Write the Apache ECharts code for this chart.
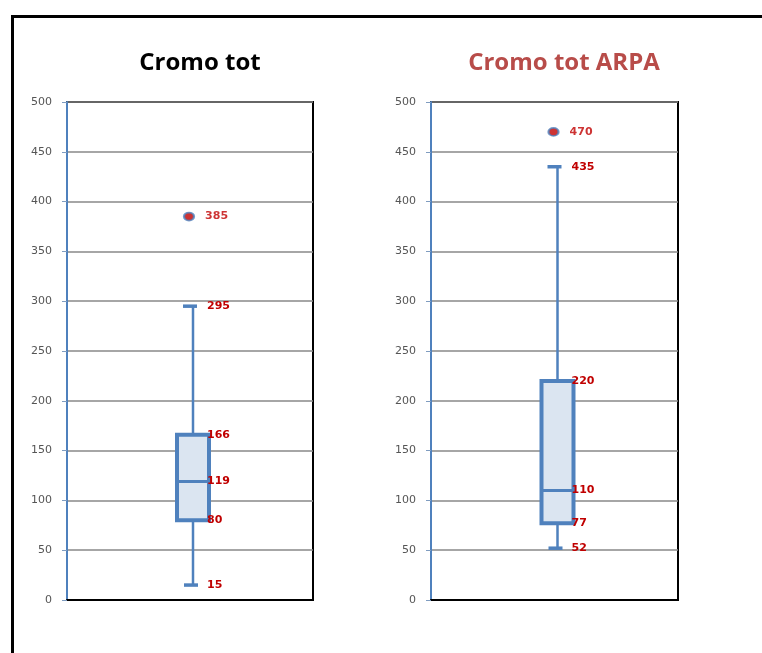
<!DOCTYPE html>
<html>
<head>
<meta charset="utf-8">
<script src="https://cdn.jsdelivr.net/npm/echarts@6/dist/echarts.min.js"></script>
<style>html,body{margin:0;padding:0;background:#fff}#c{width:762px;height:653px}</style>
</head>
<body>
<div id="c"></div>
<script>
// ---- data ----
const titles = ['Cromo tot', 'Cromo tot ARPA'];
const minVals = [15, 52];
const q1Vals = [80, 77];
const medianVals = [119, 110];
const q3Vals = [166, 220];
const maxVals = [295, 435];
const outlierVals = [385, 470];
const yMin = 0, yMax = 500, yStep = 50;

const BLUE = '#4f81bd';
const RED = '#c00000';
const labelFont = 'bold 11px "DejaVu Sans"';

function renderBox(params, api) {
  const cat = api.value(0);
  const vmin = api.value(1), vq1 = api.value(2), vmed = api.value(3), vq3 = api.value(4), vmax = api.value(5);
  const x = api.coord([cat, vmin])[0] + 3;
  const yMinP = api.coord([cat, vmin])[1];
  const yQ1 = api.coord([cat, vq1])[1];
  const yMed = api.coord([cat, vmed])[1];
  const yQ3 = api.coord([cat, vq3])[1];
  const yMaxP = api.coord([cat, vmax])[1];
  const hw = 16;
  const lx = x + 14;
  const lbl = (v, y) => ({type: 'text', z2: 20, style: {text: String(v), x: lx, y: y, fill: RED, font: labelFont, align: 'left', verticalAlign: 'middle'}});
  return {
    type: 'group',
    children: [
      {type: 'line', shape: {x1: x, y1: yMaxP, x2: x, y2: yQ3}, style: {stroke: BLUE, lineWidth: 2.5}},
      {type: 'line', shape: {x1: x, y1: yQ1, x2: x, y2: yMinP}, style: {stroke: BLUE, lineWidth: 2.5}},
      {type: 'line', shape: {x1: x - 10, y1: yMaxP, x2: x + 4, y2: yMaxP}, style: {stroke: BLUE, lineWidth: 3.5}},
      {type: 'line', shape: {x1: x - 9, y1: yMinP, x2: x + 5, y2: yMinP}, style: {stroke: BLUE, lineWidth: 3.5}},
      {type: 'rect', shape: {x: x - hw, y: yQ3, width: hw * 2, height: yQ1 - yQ3}, style: {fill: '#dbe5f1', stroke: BLUE, lineWidth: 4}},
      {type: 'line', shape: {x1: x - hw, y1: yMed, x2: x + hw, y2: yMed}, style: {stroke: BLUE, lineWidth: 3}},
      lbl(vmax, yMaxP), lbl(vq3, yQ3), lbl(vmed, yMed), lbl(vq1, yQ1), lbl(vmin, yMinP)
    ]
  };
}

const grids = [
  {left: 67, top: 102, width: 246, height: 498},
  {left: 431, top: 102, width: 247, height: 498}
];

const option = {
  animation: false,
  backgroundColor: '#fff',
  title: [
    {text: titles[0], left: 195, top: 46, textAlign: 'center',
     textStyle: {fontFamily: 'Open Sans', fontWeight: 'bold', fontSize: 24, color: '#000'}},
    {text: titles[1], left: 559, top: 46, textAlign: 'center',
     textStyle: {fontFamily: 'Open Sans', fontWeight: 'bold', fontSize: 24, color: '#b84c49'}}
  ],
  graphic: [
    {type: 'rect', left: 10, top: 14, shape: {width: 800, height: 700},
     style: {fill: 'none', stroke: '#000', lineWidth: 3}, z: 100}
  ],
  grid: grids.map(g => Object.assign({show: true, borderColor: '#000', borderWidth: 2, backgroundColor: '#fff'}, g)),
  xAxis: [0, 1].map(i => ({
    type: 'category', gridIndex: i, data: [titles[i]],
    axisLine: {show: true, lineStyle: {color: '#000', width: 2}},
    axisTick: {show: false}, axisLabel: {show: false}, splitLine: {show: false}
  })),
  yAxis: [0, 1].map(i => ({
    type: 'value', gridIndex: i, min: yMin, max: yMax, interval: yStep,
    axisLine: {show: true, lineStyle: {color: BLUE, width: 2}},
    axisTick: {show: true, length: 5, lineStyle: {color: '#7f9cc0', width: 1}},
    axisLabel: {color: '#555', fontFamily: 'DejaVu Sans', fontSize: 11, margin: 15},
    splitLine: {show: true, lineStyle: {color: '#888', width: 1.5}}
  })),
  series: [0, 1].flatMap(i => ([
    {
      type: 'custom', xAxisIndex: i, yAxisIndex: i, z: 5,
      renderItem: renderBox,
      data: [[0, minVals[i], q1Vals[i], medianVals[i], q3Vals[i], maxVals[i]]]
    },
    {
      type: 'scatter', xAxisIndex: i, yAxisIndex: i, z: 6,
      symbol: 'circle', symbolSize: [10, 8], symbolOffset: [-1, 0],
      itemStyle: {color: RED, borderColor: BLUE, borderWidth: 2},
      label: {show: true, position: 'right', distance: 10, formatter: p => p.value[1],
              color: RED, fontFamily: 'DejaVu Sans', fontWeight: 'bold', fontSize: 11},
      data: [[0, outlierVals[i]]]
    }
  ]))
};

echarts.init(document.getElementById('c')).setOption(option);
</script>
</body>
</html>
